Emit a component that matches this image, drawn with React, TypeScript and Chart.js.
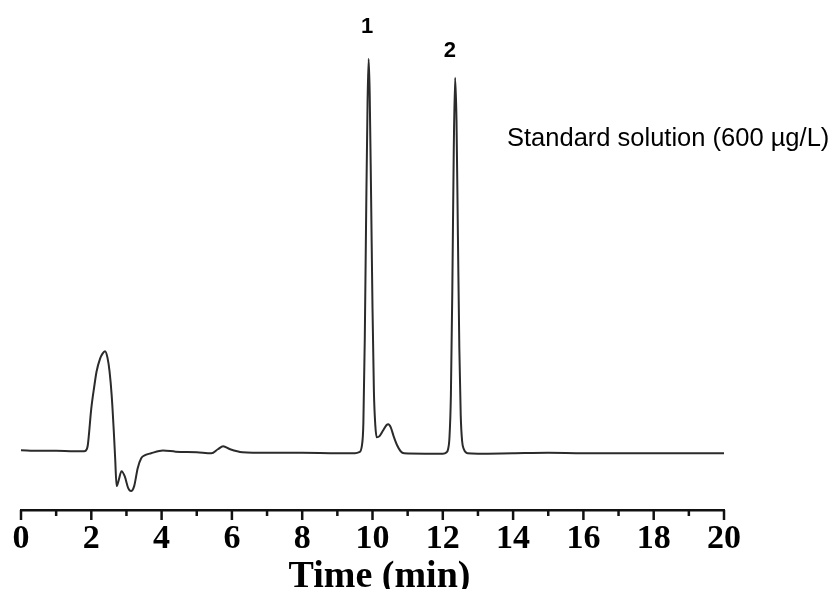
import React, { useEffect, useRef } from "react";
import { Chart, registerables } from "chart.js";

Chart.register(...registerables);

// retention time (min)
const times: number[] = [
  0, 0.5, 1.0, 1.5, 1.8, 1.87, 1.9, 2.0, 2.08, 2.15, 2.25, 2.32, 2.39, 2.46, 2.52, 2.58, 2.64,
  2.68, 2.72, 2.78, 2.86, 2.95, 3.05, 3.13, 3.22, 3.32, 3.42, 3.53, 3.7, 4.04, 4.4, 5.0,
  5.42, 5.6, 5.75, 5.95, 6.3, 7, 8, 9, 9.5, 9.62, 9.7, 9.74, 9.78, 9.82, 9.86, 9.89, 9.92,
  9.96, 10.0, 10.04, 10.08, 10.12, 10.2, 10.3, 10.4, 10.45, 10.52, 10.6, 10.7, 10.8, 10.9,
  11.5, 12.0, 12.1, 12.15, 12.19, 12.23, 12.27, 12.31, 12.35, 12.39, 12.43, 12.47, 12.51,
  12.55, 12.6, 12.7, 13, 14, 15, 16, 18, 20,
];

// detector signal (arbitrary units)
const signal: number[] = [
  0.25, 0.1, 0.1, 0, 0, 0.5, 1.5, 10.75, 16, 20, 23.25, 24.5, 25.1, 23.5, 20, 14, 5,
  -2, -8.75, -7.25, -5, -6.25, -9.25, -10, -8.75, -4.25, -1.75, -1, -0.5, 0.2, -0.1, -0.25,
  -0.5, 0.5, 1.25, 0.5, -0.25, -0.4, -0.4, -0.5, -0.5, -0.25, 1.5, 7, 28, 60, 88, 98.5, 90,
  64, 36, 15, 6.5, 3.5, 3.8, 5.2, 6.6, 6.8, 6, 3.8, 1.5, 0, -0.5,
  -0.6, -0.6, -0.3, 0.5, 3.5, 14, 40, 74, 93.75, 83, 54, 26, 9,
  2.5, 0.5, -0.5, -0.6, -0.5, -0.4, -0.5, -0.5, -0.5,
];

const xTicks: number[] = [0, 2, 4, 6, 8, 10, 12, 14, 16, 18, 20];
const peakLabels: string[] = ["1", "2"];
const peakLabelTimes: number[] = [9.85, 12.2];
const sampleLabel = "Standard solution (600 µg/L)";
const xTitle = "Time (min)";

export default function App() {
  const ref = useRef<HTMLCanvasElement | null>(null);

  useEffect(() => {
    const canvas = ref.current;
    if (!canvas) return;

    const annot = {
      id: "annot",
      afterDraw(chart: any) {
        const ctx = chart.ctx;
        const xs = chart.scales.x;
        const area = chart.chartArea;
        ctx.save();
        // minor / major ticks
        ctx.strokeStyle = "#111";
        ctx.lineWidth = 2.5;
        for (let v = 0; v <= 20; v++) {
          const px = xs.getPixelForValue(v);
          const len = v % 2 === 0 ? 10 : 6;
          ctx.beginPath();
          ctx.moveTo(px, area.bottom);
          ctx.lineTo(px, area.bottom + len);
          ctx.stroke();
        }
        // axis title
        ctx.fillStyle = "#000";
        ctx.font = "bold 38px 'Liberation Serif', 'Times New Roman', serif";
        ctx.textAlign = "center";
        ctx.textBaseline = "alphabetic";
        ctx.fillText(xTitle, 379.5, 587);
        // peak labels
        ctx.font = "bold 22px 'Liberation Sans', Arial, sans-serif";
        const ys = [33, 57];
        peakLabels.forEach((t, i) => {
          ctx.fillText(t, xs.getPixelForValue(peakLabelTimes[i]), ys[i]);
        });
        ctx.font = "25.5px 'Liberation Sans', Arial, sans-serif";
        ctx.textAlign = "left";
        ctx.fillText(sampleLabel, 507, 146);
        ctx.restore();
      },
    };

    const chart = new Chart(canvas, {
      type: "line",
      data: {
        datasets: [
          {
            data: times.map((t, i) => ({ x: t, y: signal[i] })),
            borderColor: "#2b2b2b",
            borderWidth: 2,
            pointRadius: 0,
            cubicInterpolationMode: "monotone",
            fill: false,
          },
        ],
      },
      options: {
        animation: false,
        responsive: false,
        layout: { padding: { left: 21, right: 114, top: 13, bottom: 31 } },
        plugins: { legend: { display: false }, tooltip: { enabled: false } },
        scales: {
          x: {
            type: "linear",
            min: 0,
            max: 20,
            afterBuildTicks: (scale: any) => {
              scale.ticks = xTicks.map((v) => ({ value: v }));
            },
            ticks: {
              autoSkip: false,
              maxRotation: 0,
              padding: 2,
              color: "#000",
              font: { family: "'Liberation Serif', 'Times New Roman', serif", weight: "bold", size: 34, lineHeight: 1 },
            },
            grid: { display: true, drawOnChartArea: false, drawTicks: true, tickLength: 10, tickColor: "rgba(0,0,0,0)" },
            border: { display: true, color: "#111", width: 2.5 },
            title: { display: false },
          },
          y: {
            display: false,
            min: -14.75,
            max: 110,
          },
        },
      },
      plugins: [annot],
    });

    return () => chart.destroy();
  }, []);

  return (
    <div style={{ position: "fixed", left: 0, top: 0, width: 838, height: 589, background: "#fff", overflow: "hidden" }}>
      <canvas ref={ref} width={838} height={589} style={{ display: "block", width: 838, height: 589 }} />
    </div>
  );
}
